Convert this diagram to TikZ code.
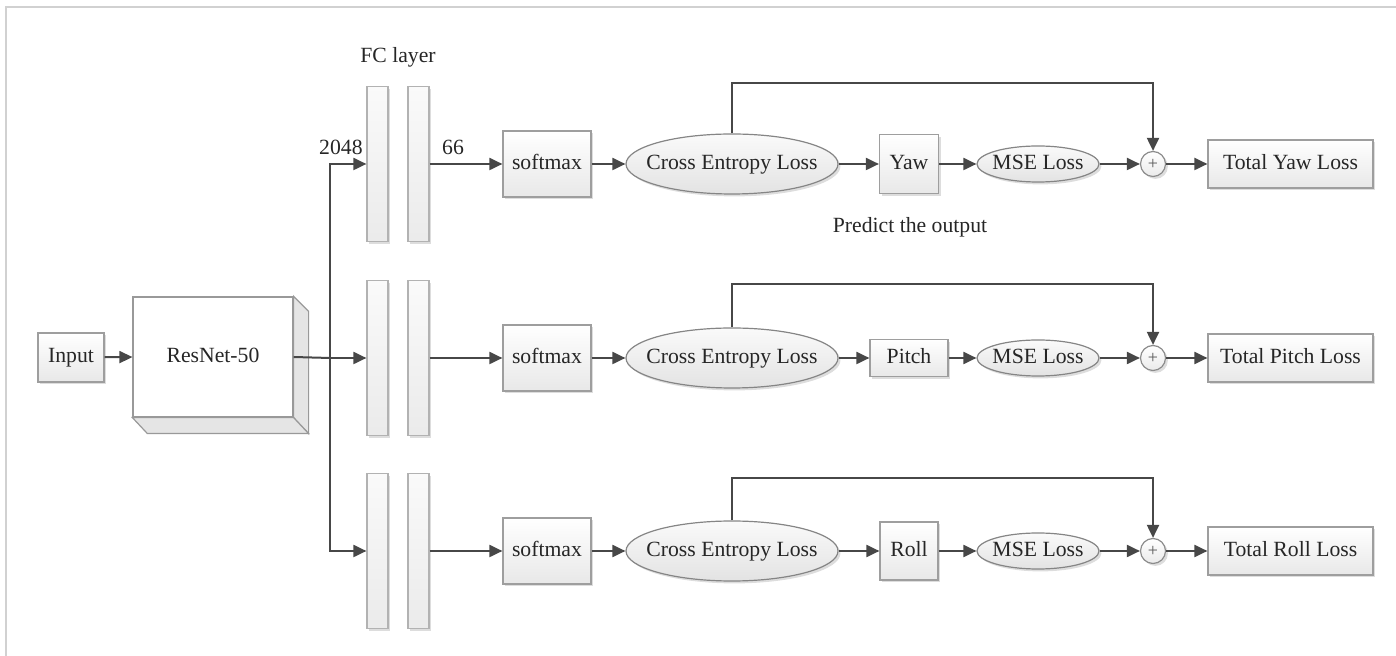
\documentclass[tikz,border=0pt]{standalone}
\usepackage{fontspec}
\setmainfont{Liberation Serif}
\usetikzlibrary{arrows.meta,shapes.geometric,shadows,calc}

\begin{document}
\begin{tikzpicture}[x=0.5pt,y=-0.5pt,
  font=\fontsize{10.85}{13}\selectfont, text=black!85,
  wire/.style={draw=black!72, line width=1pt},
  arr/.style={wire, -{Triangle[length=6.5pt,width=6pt]}},
  softshadow/.style={drop shadow={shadow xshift=1.2pt,shadow yshift=-1.2pt,opacity=0.22,fill=black!60}},
  even/.style={text height=0.68em, text depth=0.16em},
  block/.style={rectangle, draw=black!38, line width=0.6pt, top color=white, bottom color=black!9,
    softshadow, inner sep=0pt, even},
  oval/.style={ellipse, draw=black!48, line width=0.6pt, top color=black!2, bottom color=black!11,
    softshadow, inner sep=0pt, even},
  bar/.style={rectangle, draw=black!30, line width=0.6pt, top color=black!2, bottom color=black!8,
    minimum width=10.5pt, minimum height=77.5pt, inner sep=0pt, softshadow},
  softbox/.style={block, minimum width=44pt, minimum height=33pt},
  cebox/.style={oval, minimum width=106pt, minimum height=30pt},
  msebox/.style={oval, minimum width=61pt, minimum height=18pt},
  sumnode/.style={circle, draw=black!45, line width=0.6pt, top color=white, bottom color=black!8,
    minimum size=12.5pt, inner sep=0pt, softshadow},
  totalbox/.style={block, minimum width=82.5pt, minimum height=24pt},
  face/.style={draw=black!40, line width=0.6pt},
]
\useasboundingbox (0,0) rectangle (1396,656);

% outer frame
\draw[black!18, line width=1pt] (6,656) -- (6,7) -- (1396,7);

% input and backbone
\node[block, minimum width=33pt, minimum height=24.5pt] (input) at (71,357.5) {Input};

\node[rectangle, face, fill=white, minimum width=80pt, minimum height=60pt, inner sep=0pt, even]
  (res) at (213,357) {ResNet-50};
\draw[face, fill=black!10] (res.north east) -- ++(15,15) -- ($(res.south east)+(15,16)$)
  -- (res.south east) -- cycle;
\draw[face, fill=black!10] (res.south west) -- (res.south east) -- ++(15,16)
  -- ($(res.south west)+(15,16)$) -- cycle;

\draw[arr] (input) -- (res.west);

\coordinate (split) at (330,358);
\draw[wire] (res.east) -- (split);

% FC layers
\foreach \r/\y in {Y/164, P/358, R/551}{
  \node[bar] (fc\r a) at (377.5,\y) {};
  \node[bar] (fc\r b) at (418.5,\y) {};
}
\draw[arr] (split) |- (fcYa.west);
\draw[arr] (split) -- (fcPa.west);
\draw[arr] (split) |- (fcRa.west);

\node at (398,57) {FC layer};
\node[anchor=east, inner sep=0pt] (n2048) at (363,147) {2048};
\node (n66) at (453,147) {66};

% three heads
\foreach \r/\y/\lab/\w/\h/\top in {Y/164/Yaw/29.5pt/29.5pt/83, P/358/Pitch/39pt/18.5pt/284, R/551/Roll/29pt/29pt/478}{
  \node[softbox] (sm\r) at (547,\y) {softmax};
  \node[cebox] (ce\r) at (732,\y) {\makebox[0pt]{Cross Entropy Loss}};
  \node[block, minimum width=\w, minimum height=\h] (ang\r) at (909,\y) {\lab};
  \node[msebox] (mse\r) at (1038,\y) {\makebox[0pt]{MSE Loss}};
  \node[sumnode] (sum\r) at (1153,\y) {\fontsize{9}{9}\selectfont\color{black!65}+};
  \node[totalbox] (tot\r) at (1290.5,\y) {Total \lab\ Loss};
  \coordinate (fb\r) at (1153,\top);

  \draw[arr] (fc\r b.east |- sm\r.west) -- (sm\r.west);
  \draw[arr] (sm\r) -- (ce\r);
  \draw[arr] (ce\r) -- (ang\r);
  \draw[arr] (ang\r) -- (mse\r);
  \draw[arr] (mse\r) -- (sum\r);
  \draw[arr] (sum\r) -- (tot\r);
  \draw[arr] (ce\r.north) |- (fb\r) -- (sum\r.north);
}

\node (predict) at (910,227) {Predict the output};
\end{tikzpicture}
\end{document}
